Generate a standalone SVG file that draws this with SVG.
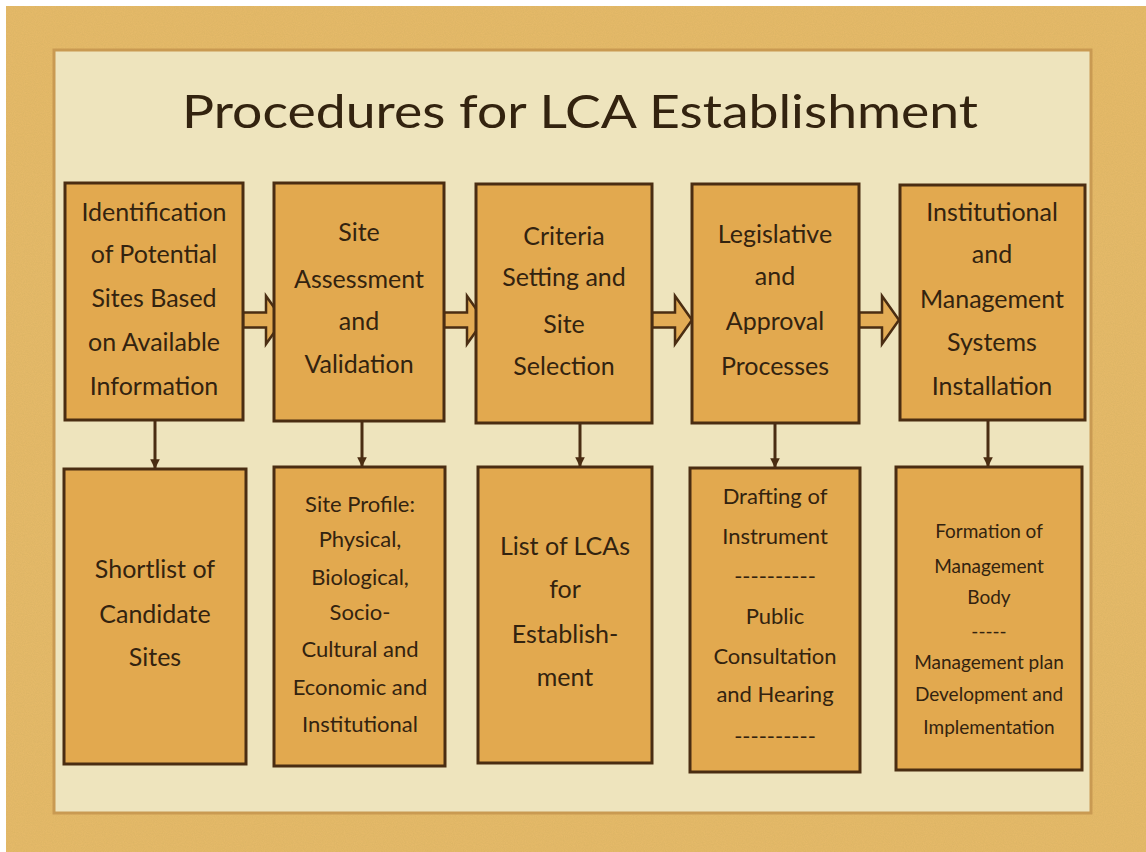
<svg xmlns="http://www.w3.org/2000/svg" xmlns:xlink="http://www.w3.org/1999/xlink" width="1146" height="852" viewBox="0 0 1146 852">
<style>
.box{fill:#e2a94f;stroke:#4a2d12;stroke-width:3}
.t{font-family:Lato,"Open Sans","Liberation Sans",sans-serif;fill:#33230f;text-anchor:middle}
.t24{font-size:25px}
.t21{font-size:22px}
.t18{font-size:19px}
.conn{stroke:#4a2d12;stroke-width:3;fill:none}
.blk{fill:#e3ac55;stroke:#4a2d12;stroke-width:2.5;stroke-linejoin:miter}
</style>
<defs>
<marker id="ah" viewBox="0 0 10 10" refX="9" refY="5" markerWidth="3.2" markerHeight="3.2" orient="auto" markerUnits="strokeWidth">
<path d="M0,0 L10,5 L0,10 Z" fill="#4a2d12"/>
</marker>
<path id="blkArrow" d="M0,-7.5 H23 V-24 L40,0 L23,24 V7.5 H0 Z"/>
<filter id="noise" x="0" y="0" width="100%" height="100%">
<feTurbulence type="fractalNoise" baseFrequency="0.9" numOctaves="2" seed="3" result="n"/>
<feColorMatrix in="n" type="matrix" values="0 0 0 0 0.55  0 0 0 0 0.38  0 0 0 0 0.1  0 0 0 0.35 -0.05" result="c"/>
<feComposite in="c" in2="SourceGraphic" operator="in"/>
</filter>
</defs>
<rect x="0" y="0" width="1146" height="852" fill="#ffffff"/>
<rect x="6" y="6" width="1140" height="846" fill="#e6ba69"/>
<rect x="6" y="6" width="1140" height="846" fill="#e6ba69" filter="url(#noise)"/>
<g id="paper">
<rect x="54" y="50" width="1037" height="763" fill="#eee4bd" stroke="#c99a52" stroke-width="3"/>
</g>
<text class="t" x="580" y="128" font-size="47" fill="#3a2810" textLength="796" lengthAdjust="spacingAndGlyphs">Procedures for LCA Establishment</text>

<g id="connectors">
<use xlink:href="#blkArrow" x="243" y="320" class="blk"/>
<use xlink:href="#blkArrow" x="444" y="320" class="blk"/>
<use xlink:href="#blkArrow" x="652" y="320" class="blk"/>
<use xlink:href="#blkArrow" x="859" y="320" class="blk"/>
<line class="conn" x1="155" y1="421" x2="155" y2="468" marker-end="url(#ah)"/>
<line class="conn" x1="362" y1="421" x2="362" y2="466" marker-end="url(#ah)"/>
<line class="conn" x1="580" y1="423" x2="580" y2="466" marker-end="url(#ah)"/>
<line class="conn" x1="775" y1="423" x2="775" y2="467" marker-end="url(#ah)"/>
<line class="conn" x1="988" y1="421" x2="988" y2="466" marker-end="url(#ah)"/>
</g>

<g id="n1">
<rect class="box" x="65" y="183" width="178" height="237"/>
<text class="t t24" x="154"><tspan x="154" y="221">Identification</tspan><tspan x="154" y="263">of Potential</tspan><tspan x="154" y="307">Sites Based</tspan><tspan x="154" y="351">on Available</tspan><tspan x="154" y="395">Information</tspan></text>
</g>
<g id="n2">
<rect class="box" x="274" y="183" width="170" height="238"/>
<text class="t t24"><tspan x="359" y="241">Site</tspan><tspan x="359" y="288">Assessment</tspan><tspan x="359" y="330">and</tspan><tspan x="359" y="373">Validation</tspan></text>
</g>
<g id="n3">
<rect class="box" x="476" y="184" width="176" height="239"/>
<text class="t t24"><tspan x="564" y="245">Criteria</tspan><tspan x="564" y="286">Setting and</tspan><tspan x="564" y="333">Site</tspan><tspan x="564" y="375">Selection</tspan></text>
</g>
<g id="n4">
<rect class="box" x="692" y="184" width="167" height="239"/>
<text class="t t24"><tspan x="775" y="243">Legislative</tspan><tspan x="775" y="285">and</tspan><tspan x="775" y="330">Approval</tspan><tspan x="775" y="375">Processes</tspan></text>
</g>
<g id="n5">
<rect class="box" x="900" y="185" width="185" height="235"/>
<text class="t t24"><tspan x="992" y="221">Institutional</tspan><tspan x="992" y="263">and</tspan><tspan x="992" y="308">Management</tspan><tspan x="992" y="351">Systems</tspan><tspan x="992" y="395">Installation</tspan></text>
</g>

<g id="n6">
<rect class="box" x="64" y="469" width="182" height="295"/>
<text class="t t24"><tspan x="155" y="578">Shortlist of</tspan><tspan x="155" y="623">Candidate</tspan><tspan x="155" y="666">Sites</tspan></text>
</g>
<g id="n7">
<rect class="box" x="274" y="467" width="171" height="299"/>
<text class="t t21"><tspan x="360" y="512">Site Profile:</tspan><tspan x="360" y="547">Physical,</tspan><tspan x="360" y="585">Biological,</tspan><tspan x="360" y="620">Socio-</tspan><tspan x="360" y="657">Cultural and</tspan><tspan x="360" y="695">Economic and</tspan><tspan x="360" y="732">Institutional</tspan></text>
</g>
<g id="n8">
<rect class="box" x="478" y="467" width="174" height="296"/>
<text class="t t24"><tspan x="565" y="555">List of LCAs</tspan><tspan x="565" y="598">for</tspan><tspan x="565" y="643">Establish-</tspan><tspan x="565" y="686">ment</tspan></text>
</g>
<g id="n9">
<rect class="box" x="690" y="468" width="170" height="304"/>
<text class="t t21"><tspan x="775" y="504">Drafting of</tspan><tspan x="775" y="544">Instrument</tspan><tspan x="775" y="584">----------</tspan><tspan x="775" y="624">Public</tspan><tspan x="775" y="664">Consultation</tspan><tspan x="775" y="702">and Hearing</tspan><tspan x="775" y="744">----------</tspan></text>
</g>
<g id="n10">
<rect class="box" x="896" y="467" width="186" height="303"/>
<text class="t t18"><tspan x="989" y="538">Formation of</tspan><tspan x="989" y="573">Management</tspan><tspan x="989" y="604">Body</tspan><tspan x="989" y="638">-----</tspan><tspan x="989" y="669">Management plan</tspan><tspan x="989" y="701">Development and</tspan><tspan x="989" y="734">Implementation</tspan></text>
</g>
</svg>
